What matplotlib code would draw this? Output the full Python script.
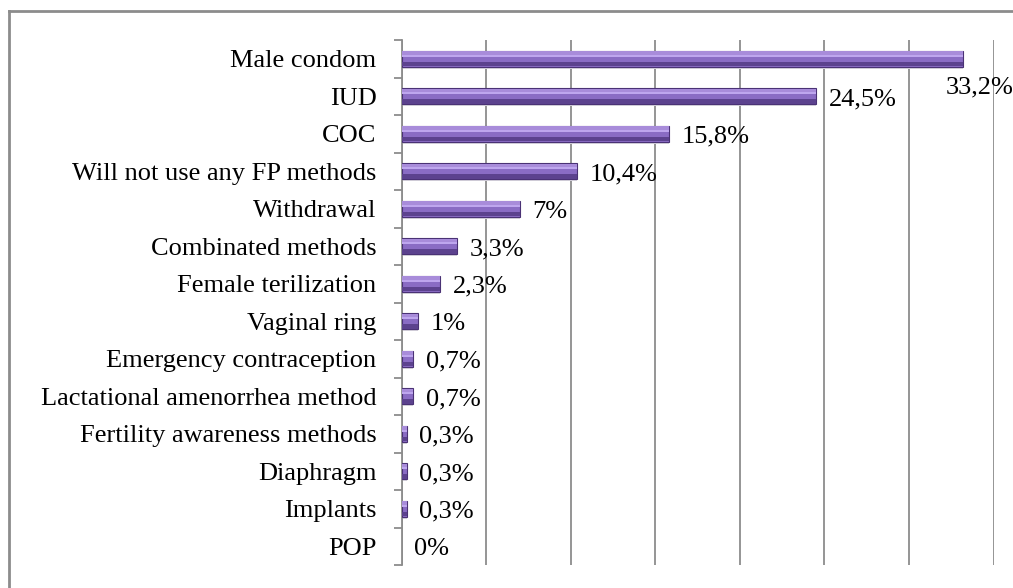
import matplotlib
matplotlib.use("Agg")
import matplotlib.pyplot as plt
from matplotlib.lines import Line2D

# data (percent)
methods = ["Male condom", "IUD", "COC", "Will not use any FP methods", "Withdrawal",
           "Combinated methods", "Female terilization", "Vaginal ring",
           "Emergency contraception", "Lactational amenorrhea method",
           "Fertility awareness methods", "Diaphragm", "Implants", "POP"]
values = [33.2, 24.5, 15.8, 10.4, 7.0, 3.3, 2.3, 1.0, 0.7, 0.7, 0.3, 0.3, 0.3, 0.0]
labels = ["33,2%", "24,5%", "15,8%", "10,4%", "7%", "3,3%", "2,3%", "1%",
          "0,7%", "0,7%", "0,3%", "0,3%", "0,3%", "0%"]

plt.rcParams['font.family'] = ['Liberation Serif', 'DejaVu Serif']
grey = '#8c8c8c'
fs = 19

fig = plt.figure(figsize=(10.13, 5.88), dpi=100)
ax = fig.add_axes([401.5/1013, 1-565/588, 592/1013, 525/588])

ypos = list(range(len(methods)))
h = 0.42
edge_w = [0.8 if v > 0 else 0 for v in values]

# shadow, body, top highlight and dark bottom to mimic the bevelled bars
ax.barh([y + 0.05 for y in ypos], values, height=h, color='#d6d3dc', linewidth=0, zorder=2)
ax.barh(ypos, values, height=h, color='#8a6cc4', edgecolor='#4a3275', linewidth=edge_w, zorder=3)
ax.barh([y - h/2 + 0.07 for y in ypos], values, height=0.12, color='#a88cda', linewidth=0, zorder=4)
ax.barh([y - h/2 + 0.13 for y in ypos], values, height=0.06, color='#bea6ee', linewidth=0, zorder=4)
ax.barh([y + h/2 - 0.07 for y in ypos], values, height=0.12, color='#5c428e', linewidth=0, zorder=4)

for y, v, t in zip(ypos, values, labels):
    if y == 0:
        # the top label sits below its bar, it would not fit at the right
        ax.text(32.2, 0.77, t, fontsize=fs, va='center', ha='left', zorder=6)
    else:
        ax.annotate(t, (v, y), xytext=(9, -2), textcoords='offset points',
                    fontsize=fs, va='center', ha='left', zorder=6)

ax.set_xlim(0, 35)
ax.set_ylim(len(methods) - 0.5, -0.5)
ax.set_xticks(range(0, 36, 5))
ax.set_xticklabels([])
ax.tick_params(axis='x', length=0)
ax.grid(axis='x', color=grey, linewidth=1.3, zorder=1)
ax.set_axisbelow(True)

ax.set_yticks(ypos)
ax.set_yticklabels(methods, fontsize=fs)
ax.tick_params(axis='y', which='major', length=0, pad=18)
ax.set_yticks([y - 0.5 for y in ypos] + [len(methods) - 0.5], minor=True)
ax.tick_params(axis='y', which='minor', length=6, width=1.3, color=grey, direction='out')

for s in ['top', 'right', 'bottom']:
    ax.spines[s].set_visible(False)
ax.spines['left'].set_color(grey)
ax.spines['left'].set_linewidth(1.3)

# outer chart frame (only top and left edges are visible in the crop)
fig.add_artist(Line2D([8.5/1013, 1], [1-10.5/588, 1-10.5/588], color=grey, linewidth=2))
fig.add_artist(Line2D([8.5/1013, 8.5/1013], [0, 1-10.5/588], color=grey, linewidth=2))

fig.savefig("out.png", dpi=100)
